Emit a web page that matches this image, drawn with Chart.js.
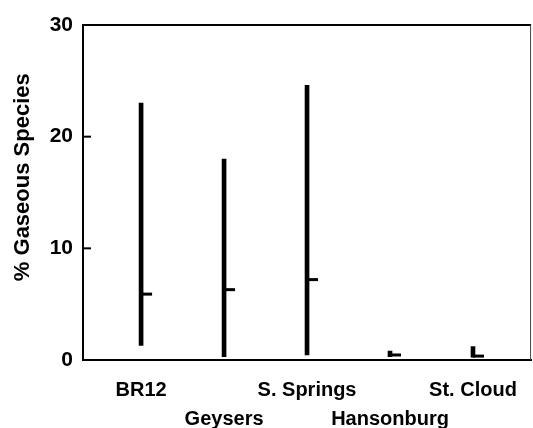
<!DOCTYPE html>
<html>
<head>
<meta charset="utf-8">
<script src="https://cdn.jsdelivr.net/npm/chart.js@4"></script>
<style>
  html, body { margin: 0; padding: 0; background: #fff; }
  #wrap { width: 533px; height: 428px; }
</style>
</head>
<body>
<div id="wrap"><canvas id="myChart"></canvas></div>
<script>
const categories = ['BR12', 'Geysers', 'S. Springs', 'Hansonburg', 'St. Cloud'];
const minVals = [1.3, 0.3, 0.45, 0.3, 0.25];
const maxVals = [23.0, 18.0, 24.6, 0.8, 1.2];
const meanVals = [5.9, 6.3, 7.2, 0.45, 0.35];
const yTicks = [0, 10, 20, 30];

const font = "'Liberation Sans', Arial, sans-serif";

// mean marks, frame and inward y ticks
const extras = {
  id: 'extras',
  afterDatasetsDraw(chart) {
    const {ctx, chartArea: a, scales: {x, y}} = chart;
    ctx.save();
    ctx.strokeStyle = '#000';
    ctx.lineWidth = 3;
    meanVals.forEach((m, i) => {
      const px = x.getPixelForValue(i + 1);
      const py = y.getPixelForValue(m);
      ctx.beginPath();
      ctx.moveTo(px, py);
      ctx.lineTo(px + 11, py);
      ctx.stroke();
    });
    ctx.lineWidth = 2;
    ctx.beginPath();
    ctx.moveTo(a.left, a.top);
    ctx.lineTo(a.right, a.top);
    ctx.stroke();
    ctx.lineWidth = 1;
    ctx.strokeStyle = '#444';
    ctx.beginPath();
    ctx.moveTo(a.right - 0.5, a.top);
    ctx.lineTo(a.right - 0.5, a.bottom);
    ctx.stroke();
    ctx.strokeStyle = '#000';
    ctx.lineWidth = 2;
    yTicks.slice(1, -1).forEach(t => {
      const py = y.getPixelForValue(t);
      ctx.beginPath();
      ctx.moveTo(a.left, py);
      ctx.lineTo(a.left + 8, py);
      ctx.stroke();
    });
    ctx.restore();
  }
};

new Chart(document.getElementById('myChart'), {
  type: 'bar',
  data: {
    datasets: [{
      data: categories.map((c, i) => ({x: i + 1, y: [minVals[i], maxVals[i]]})),
      backgroundColor: '#000',
      barThickness: 4
    }]
  },
  options: {
    responsive: true,
    maintainAspectRatio: false,
    animation: false,
    layout: { padding: { top: 25, right: 1 } },
    plugins: {
      legend: { display: false },
      tooltip: { enabled: false }
    },
    scales: {
      x: {
        type: 'linear',
        min: 0.3,
        max: 5.7,
        offset: false,
        afterBuildTicks: axis => {
          axis.ticks = categories.map((c, i) => ({value: i + 1}));
        },
        afterFit: axis => { axis.height = 68; },
        grid: { display: false, drawTicks: false, offset: false },
        border: { display: true, color: '#000', width: 2 },
        ticks: {
          autoSkip: false,
          maxRotation: 0,
          padding: 16,
          color: '#000',
          font: { family: font, size: 20, weight: 'bold', lineHeight: 1.45 },
          callback: v => {
            const i = Math.round(v) - 1;
            return i % 2 ? ['', categories[i]] : categories[i];
          }
        }
      },
      y: {
        min: 0,
        max: 30,
        afterBuildTicks: axis => {
          axis.ticks = yTicks.map(v => ({value: v}));
        },
        afterFit: axis => { axis.width = 83; },
        grid: { display: false, drawTicks: false },
        border: { display: true, color: '#000', width: 2 },
        ticks: {
          padding: 10,
          color: '#000',
          font: { family: font, size: 21, weight: 'bold' }
        },
        title: {
          display: true,
          text: '     % Gaseous Species',
          color: '#000',
          padding: { top: 10 },
          font: { family: font, size: 22, weight: 'bold' }
        }
      }
    }
  },
  plugins: [extras]
});
</script>
</body>
</html>
